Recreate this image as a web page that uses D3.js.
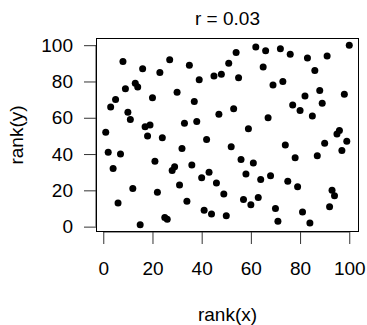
<!DOCTYPE html>
<html>
<head>
<meta charset="utf-8">
<script src="https://cdn.jsdelivr.net/npm/d3@7"></script>
<style>
  body { margin: 0; background: #fff; }
  text { font-family: "Liberation Sans", Arial, sans-serif; fill: #000; }
</style>
</head>
<body>
<div id="chart"></div>
<script>
// rank(x) is 1..100, rank(y) in the same order
const rankX = d3.range(1, 101);
const rankY = [
  52, 41, 66, 32, 70, 13, 40, 91, 76, 63,
  59, 21, 79, 77, 1, 87, 55, 50, 56, 71,
  36, 19, 85, 49, 5, 4, 92, 31, 33, 74,
  23, 43, 57, 14, 89, 34, 69, 58, 81, 27,
  9, 48, 30, 7, 83, 24, 62, 84, 18, 6,
  90, 44, 65, 96, 82, 37, 15, 29, 54, 12,
  35, 99, 16, 26, 88, 97, 60, 28, 78, 10,
  3, 98, 80, 45, 25, 95, 67, 38, 22, 64,
  8, 72, 93, 2, 61, 86, 39, 75, 68, 46,
  94, 11, 20, 17, 51, 53, 42, 73, 47, 100
];
const xTicks = [0, 20, 40, 60, 80, 100];
const yTicks = [0, 20, 40, 60, 80, 100];
const title = "r = 0.03";

const width = 367, height = 325;
const box = {left: 96, right: 359, top: 38, bottom: 232};
const fontSize = 19;

const svg = d3.select("#chart").append("svg")
  .attr("width", width)
  .attr("height", height);

// R style 4% padding on the data range
const pad = (100 - 1) * 0.04;
const x = d3.scaleLinear().domain([1 - pad, 100 + pad]).range([box.left, box.right]);
const y = d3.scaleLinear().domain([1 - pad, 100 + pad]).range([box.bottom, box.top]);

// x axis
const xAxis = d3.axisBottom(x).tickValues(xTicks).tickSize(12).tickPadding(18);
const gx = svg.append("g")
  .attr("transform", `translate(0,${box.bottom})`)
  .call(xAxis);
gx.select(".domain").attr("d", `M${x(0)},0H${x(100)}`).attr("stroke", "#333");
gx.selectAll(".tick line").attr("stroke", "#333");
gx.selectAll(".tick text").attr("font-size", fontSize).attr("font-family", "Liberation Sans, Arial, sans-serif").attr("fill", "#000");

// y axis
const yAxis = d3.axisLeft(y).tickValues(yTicks).tickSize(12).tickPadding(11);
const gy = svg.append("g")
  .attr("transform", `translate(${box.left},0)`)
  .call(yAxis);
gy.select(".domain").attr("d", `M0,${y(0)}V${y(100)}`).attr("stroke", "#333");
gy.selectAll(".tick line").attr("stroke", "#333");
gy.selectAll(".tick text").attr("font-size", fontSize).attr("font-family", "Liberation Sans, Arial, sans-serif").attr("fill", "#000");

// plot box
svg.append("rect")
  .attr("x", box.left + 0.5)
  .attr("y", box.top + 0.5)
  .attr("width", box.right - box.left - 1)
  .attr("height", box.bottom - box.top - 1)
  .attr("fill", "none")
  .attr("stroke", "#000")
  .attr("stroke-width", 1);

// points
svg.append("g")
  .selectAll("circle")
  .data(rankX)
  .join("circle")
  .attr("cx", (d) => x(d))
  .attr("cy", (d, i) => y(rankY[i]))
  .attr("r", 3.5)
  .attr("fill", "#000");

// title and labels
svg.append("text")
  .attr("x", (box.left + box.right) / 2)
  .attr("y", 25)
  .attr("text-anchor", "middle")
  .attr("font-size", fontSize)
  .text(title);

svg.append("text")
  .attr("x", (box.left + box.right) / 2)
  .attr("y", 321)
  .attr("text-anchor", "middle")
  .attr("font-size", fontSize)
  .text("rank(x)");

svg.append("text")
  .attr("transform", `translate(23,${(box.top + box.bottom) / 2}) rotate(-90)`)
  .attr("text-anchor", "middle")
  .attr("font-size", fontSize)
  .text("rank(y)");
</script>
</body>
</html>
